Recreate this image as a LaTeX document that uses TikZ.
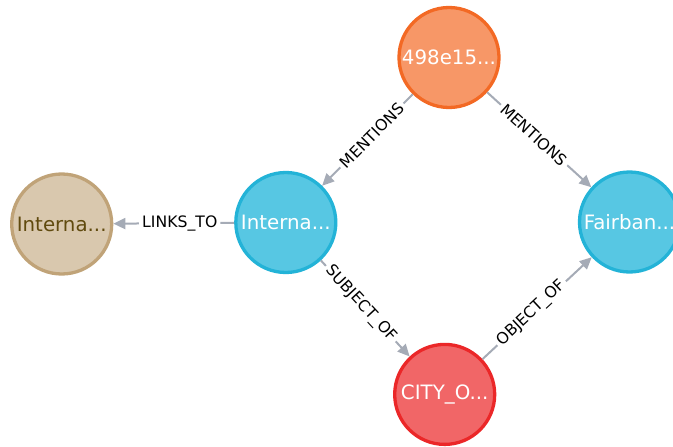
\documentclass[tikz,border=0pt]{standalone}
\usepackage{fontspec}
\setmainfont{DejaVu Sans}
\usetikzlibrary{arrows.meta}

\definecolor{chunkfill}{HTML}{F79767}
\definecolor{chunkline}{HTML}{F36924}
\definecolor{entfill}{HTML}{57C7E3}
\definecolor{entline}{HTML}{23B3D7}
\definecolor{pagefill}{HTML}{D9C8AE}
\definecolor{pageline}{HTML}{C0A378}
\definecolor{pagetext}{HTML}{604A0E}
\definecolor{factfill}{HTML}{F16667}
\definecolor{factline}{HTML}{EB2728}
\definecolor{relgray}{HTML}{A5ABB6}

\begin{document}
\begin{tikzpicture}[x=1pt,y=-1pt,
    entity/.style={circle, minimum size=100pt, inner sep=0pt, line width=3.3pt,
        text=white, font=\fontsize{19.8}{24}\selectfont},
    rel/.style={draw=relgray, line width=2pt, -{Triangle[length=12pt,width=11pt]}},
    rellabel/.style={sloped, pos=0.45, fill=white, inner sep=3pt,
        font=\fontsize{15.7}{19}\selectfont}]

    \clip (0,0) rectangle (673,447);

    % nodes
    \node[entity, fill=chunkfill, draw=chunkline] (chunk) at (449,57.5) {498e15...};
    \node[entity, fill=pagefill, draw=pageline, text=pagetext] (page) at (61.7,224) {Interna...};
    \node[entity, fill=entfill, draw=entline] (intl) at (285.8,222.5) {Interna...};
    \node[entity, fill=entfill, draw=entline] (fairbanks) at (629.5,222) {Fairban...};
    \node[entity, fill=factfill, draw=factline] (city) at (444.7,394.4) {CITY\_O...};

    % relationships
    \draw[rel] (chunk) -- node[rellabel] {MENTIONS} (intl);
    \draw[rel] (chunk) -- node[rellabel] {MENTIONS} (fairbanks);
    \draw[rel] (intl) -- node[rellabel] {LINKS\_TO} (page);
    \draw[rel] (intl) -- node[rellabel] {SUBJECT\_OF} (city);
    \draw[rel] (city) -- node[rellabel] {OBJECT\_OF} (fairbanks);
\end{tikzpicture}
\end{document}
